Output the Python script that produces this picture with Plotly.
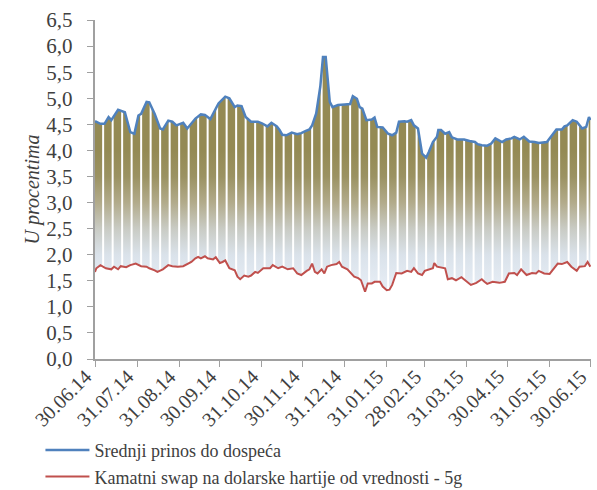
import plotly.graph_objects as go
import pandas as pd

# Srednji prinos do dospeća (blue)
blue_dates = ["2014-06-30","2014-07-04","2014-07-07","2014-07-10","2014-07-12","2014-07-17","2014-07-22",
    "2014-07-26","2014-07-29","2014-08-01","2014-08-03","2014-08-07","2014-08-09","2014-08-13","2014-08-17",
    "2014-08-19","2014-08-23","2014-08-26","2014-08-29","2014-09-03","2014-09-06","2014-09-12","2014-09-16",
    "2014-09-19","2014-09-23","2014-09-26","2014-09-29","2014-10-04","2014-10-07","2014-10-11","2014-10-13",
    "2014-10-16","2014-10-19","2014-10-23","2014-10-28","2014-10-31","2014-11-04","2014-11-07","2014-11-11",
    "2014-11-13","2014-11-15","2014-11-18","2014-11-22","2014-11-26","2014-11-29","2014-12-02","2014-12-05",
    "2014-12-07","2014-12-10","2014-12-13","2014-12-15","2014-12-17","2014-12-18","2014-12-20","2014-12-22",
    "2014-12-26","2014-12-31","2015-01-04","2015-01-06","2015-01-09","2015-01-11","2015-01-13","2015-01-16",
    "2015-01-20","2015-01-22","2015-01-24","2015-01-28","2015-02-01","2015-02-04","2015-02-07","2015-02-09",
    "2015-02-13","2015-02-15","2015-02-18","2015-02-20","2015-02-23","2015-02-26","2015-03-01","2015-03-03",
    "2015-03-06","2015-03-09","2015-03-10","2015-03-12","2015-03-15","2015-03-18","2015-03-20","2015-03-24",
    "2015-03-29","2015-04-02","2015-04-06","2015-04-08","2015-04-11","2015-04-15","2015-04-18","2015-04-21",
    "2015-04-26","2015-04-29","2015-05-03","2015-05-05","2015-05-09","2015-05-12","2015-05-16","2015-05-20",
    "2015-05-23","2015-05-29","2015-06-01","2015-06-05","2015-06-09","2015-06-11","2015-06-13","2015-06-17",
    "2015-06-20","2015-06-22","2015-06-24","2015-06-27","2015-06-29","2015-06-30"]
blue_values = [4.56,4.51,4.51,4.64,4.58,4.78,4.73,
    4.35,4.32,4.67,4.70,4.93,4.92,4.70,4.42,
    4.40,4.57,4.55,4.48,4.53,4.42,4.61,4.69,
    4.68,4.60,4.74,4.90,5.03,5.00,4.83,4.86,
    4.85,4.64,4.55,4.55,4.52,4.46,4.53,4.46,
    4.39,4.30,4.29,4.34,4.31,4.33,4.37,4.40,
    4.48,4.71,5.22,5.79,5.79,5.47,4.93,4.83,
    4.87,4.88,4.89,5.04,4.99,4.83,4.80,4.58,
    4.59,4.63,4.45,4.44,4.32,4.29,4.34,4.55,
    4.56,4.55,4.58,4.48,4.42,3.94,3.86,3.97,
    4.16,4.26,4.39,4.39,4.32,4.35,4.25,4.21,
    4.21,4.18,4.16,4.12,4.10,4.09,4.13,4.23,
    4.16,4.21,4.23,4.26,4.21,4.26,4.17,4.16,
    4.14,4.16,4.26,4.40,4.40,4.46,4.48,4.58,
    4.55,4.48,4.42,4.45,4.64,4.58]

# Kamatni swap na dolarske hartije od vrednosti - 5g (red)
red_dates = ["2014-06-30","2014-07-01","2014-07-04","2014-07-08","2014-07-12","2014-07-14","2014-07-17",
    "2014-07-19","2014-07-23","2014-07-26","2014-07-30","2014-08-03","2014-08-07","2014-08-09","2014-08-13",
    "2014-08-15","2014-08-19","2014-08-23","2014-08-26","2014-08-30","2014-09-03","2014-09-06","2014-09-09",
    "2014-09-12","2014-09-14","2014-09-16","2014-09-19","2014-09-21","2014-09-25","2014-09-27","2014-09-30",
    "2014-10-02","2014-10-04","2014-10-07","2014-10-11","2014-10-13","2014-10-15","2014-10-18","2014-10-21",
    "2014-10-23","2014-10-26","2014-10-28","2014-11-01","2014-11-06","2014-11-08","2014-11-12","2014-11-15",
    "2014-11-19","2014-11-23","2014-11-26","2014-11-29","2014-12-03","2014-12-05","2014-12-07","2014-12-09",
    "2014-12-11","2014-12-14","2014-12-16","2014-12-18","2014-12-21","2014-12-25","2014-12-27","2014-12-29",
    "2015-01-02","2015-01-05","2015-01-07","2015-01-10","2015-01-12","2015-01-15","2015-01-17","2015-01-20",
    "2015-01-22","2015-01-26","2015-01-28","2015-01-31","2015-02-02","2015-02-04","2015-02-07","2015-02-11",
    "2015-02-15","2015-02-18","2015-02-20","2015-02-23","2015-02-26","2015-02-28","2015-03-03","2015-03-06",
    "2015-03-07","2015-03-09","2015-03-15","2015-03-17","2015-03-20","2015-03-23","2015-03-27","2015-03-29",
    "2015-03-31","2015-04-03","2015-04-07","2015-04-11","2015-04-13","2015-04-15","2015-04-19","2015-04-24",
    "2015-04-28","2015-05-01","2015-05-05","2015-05-07","2015-05-10","2015-05-14","2015-05-18","2015-05-21",
    "2015-05-23","2015-05-27","2015-05-31","2015-06-02","2015-06-06","2015-06-09","2015-06-13","2015-06-16",
    "2015-06-20","2015-06-22","2015-06-26","2015-06-28","2015-06-30"]
red_values = [1.67,1.74,1.80,1.74,1.72,1.77,1.72,
    1.78,1.76,1.80,1.83,1.78,1.77,1.74,1.70,
    1.67,1.72,1.80,1.78,1.77,1.78,1.82,1.86,
    1.93,1.96,1.93,1.97,1.93,1.91,1.95,1.84,
    1.86,1.89,1.74,1.70,1.58,1.53,1.60,1.58,
    1.60,1.67,1.65,1.74,1.74,1.80,1.74,1.77,
    1.72,1.74,1.64,1.61,1.69,1.72,1.83,1.67,
    1.64,1.72,1.64,1.77,1.80,1.82,1.86,1.77,
    1.72,1.64,1.58,1.55,1.51,1.29,1.45,1.45,
    1.48,1.48,1.39,1.32,1.33,1.42,1.65,1.64,
    1.69,1.67,1.74,1.64,1.61,1.69,1.72,1.74,
    1.84,1.77,1.74,1.53,1.55,1.51,1.57,1.53,
    1.48,1.42,1.46,1.53,1.48,1.44,1.48,1.46,
    1.48,1.64,1.65,1.61,1.72,1.61,1.65,1.64,
    1.69,1.64,1.63,1.70,1.83,1.82,1.86,1.77,
    1.69,1.77,1.78,1.86,1.77]

tick_dates = ["2014-06-30","2014-07-31","2014-08-31","2014-09-30","2014-10-31","2014-11-30","2014-12-31",
              "2015-01-31","2015-02-28","2015-03-31","2015-04-30","2015-05-31","2015-06-30"]
tick_labels = ["30.06.14","31.07.14","31.08.14","30.09.14","31.10.14","30.11.14","31.12.14",
               "31.01.15","28.02.15","31.03.15","30.04.15","31.05.15","30.06.15"]

blue_name = "Srednji prinos do dospeća"
red_name = "Kamatni swap na dolarske hartije od vrednosti - 5g"

FONT = "'Liberation Serif', 'Times New Roman', 'DejaVu Serif', serif"
TXT = "#404040"

fig = go.Figure()

# gradient band between the two series
poly_x = blue_dates + red_dates[::-1]
poly_y = blue_values + red_values[::-1]
fig.add_trace(go.Scatter(
    x=poly_x, y=poly_y, mode="lines", fill="toself", line=dict(width=0),
    fillgradient=dict(type="vertical", start=1.5, stop=4.0,
                      colorscale=[[0.0, "#e4ebf3"], [0.2, "#dae2ea"], [0.4, "#c9cbc4"],
                                  [0.6, "#b2ab8b"], [0.8, "#9b9262"], [1.0, "#948a54"]]),
    showlegend=False, hoverinfo="skip"))

# weekend gaps (white separators between weekly columns)
sundays = pd.date_range(blue_dates[0], blue_dates[-1], freq="W-SUN")
lo, hi = min(red_values), max(blue_values)
gx, gy = [], []
for s in sundays:
    gx += [s, s, None]
    gy += [lo, hi, None]
fig.add_trace(go.Scatter(x=gx, y=gy, mode="lines", line=dict(color="white", width=2),
                         showlegend=False, hoverinfo="skip"))

fig.add_trace(go.Scatter(x=blue_dates, y=blue_values, mode="lines", name=blue_name,
                         line=dict(color="#4f81bd", width=2.5)))
fig.add_trace(go.Scatter(x=red_dates, y=red_values, mode="lines", name=red_name,
                         line=dict(color="#c0504d", width=2)))

# rotated date labels under the ticks
for d, t in zip(tick_dates, tick_labels):
    fig.add_annotation(x=d, y=0, xref="x", yref="paper", text=t, textangle=-45,
                       showarrow=False, xanchor="right", yanchor="top",
                       xshift=2, yshift=-5, borderpad=0,
                       font=dict(family=FONT, size=20, color=TXT))

fig.update_layout(
    width=597, height=490,
    margin=dict(l=95, r=6, t=20, b=131, autoexpand=False),
    paper_bgcolor="white", plot_bgcolor="white",
    separators=", ",
    font=dict(family=FONT, size=18, color=TXT),
    legend=dict(x=-0.11, y=-0.215, xanchor="left", yanchor="top",
                font=dict(family=FONT, size=18, color=TXT), itemwidth=44,
                tracegroupgap=0, bgcolor="rgba(0,0,0,0)"),
    xaxis=dict(type="date", range=["2014-06-30", "2015-06-30 12:00"],
               tickmode="array", tickvals=tick_dates, showticklabels=False,
               ticks="outside", ticklen=6, tickcolor="#a0a0a0",
               showline=True, linecolor="#a0a0a0", linewidth=1.5,
               showgrid=False, zeroline=False, automargin=False),
    yaxis=dict(range=[0, 6.5], tickmode="linear", tick0=0, dtick=0.5, tickformat=".1f",
               ticksuffix="\u00a0\u00a0",
               ticks="outside", ticklen=6, tickcolor="#a0a0a0",
               showline=True, linecolor="#a0a0a0", linewidth=1.5,
               showgrid=False, zeroline=False, automargin=False,
               tickfont=dict(family=FONT, size=21, color=TXT),
               title=dict(text="<i>U procentima</i>", standoff=1,
                          font=dict(family=FONT, size=20, color=TXT))),
)

fig.write_html("out.html", config={"displayModeBar": False},
               post_script="document.body.style.margin='0';")
